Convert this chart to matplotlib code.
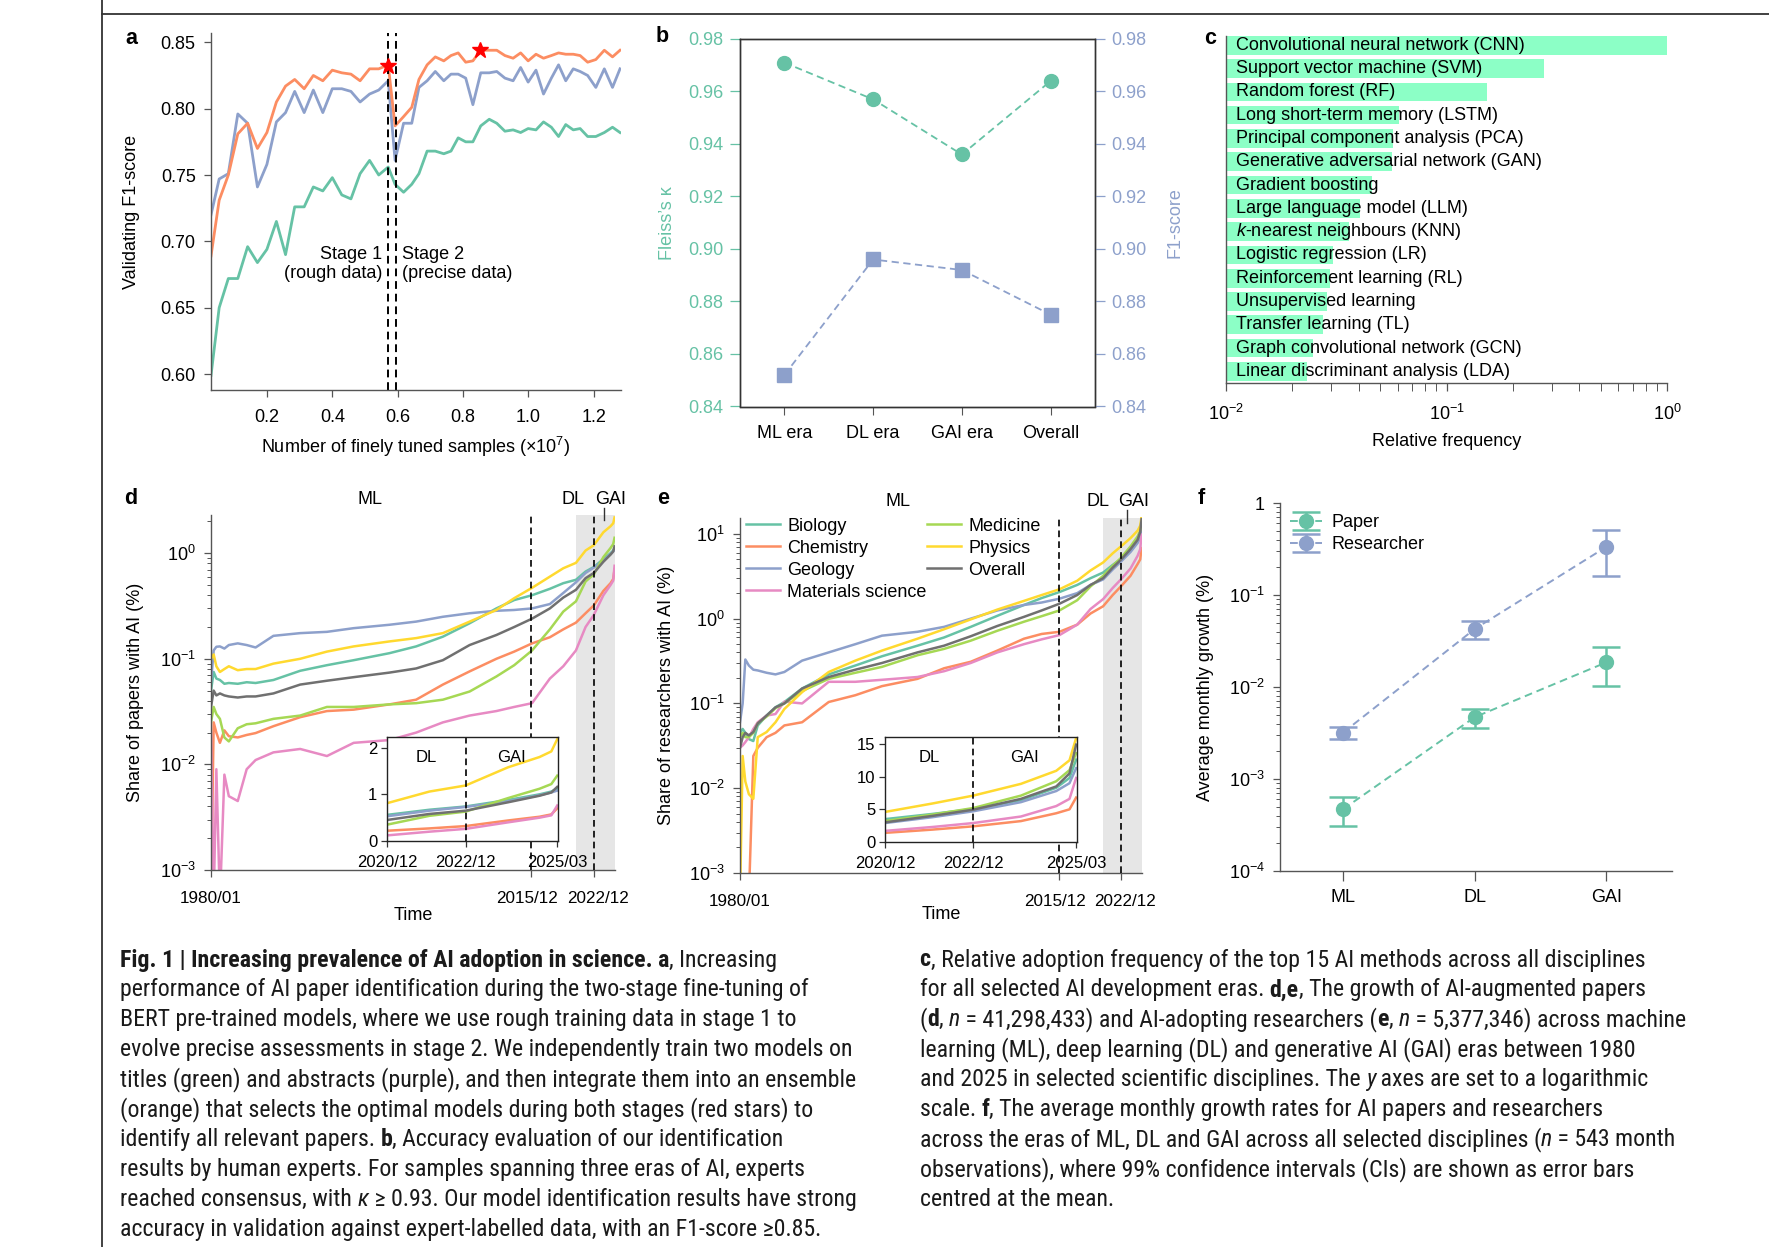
import matplotlib
matplotlib.use('Agg')
import numpy as np
import matplotlib.pyplot as plt
from matplotlib import font_manager as fm
from matplotlib.lines import Line2D
from matplotlib.transforms import ScaledTranslation
from matplotlib.ticker import LogLocator, NullFormatter, FixedLocator

plt.rcParams['font.family'] = ['Liberation Sans', 'DejaVu Sans']
plt.rcParams['mathtext.fontset'] = 'custom'
plt.rcParams['mathtext.rm'] = 'Liberation Sans'
plt.rcParams['mathtext.it'] = 'Liberation Sans:italic'
plt.rcParams['mathtext.bf'] = 'Liberation Sans:bold'

# ---------------- data ----------------
# panel a
a_x = [0.029, 0.054, 0.082, 0.111, 0.141, 0.171, 0.200, 0.229, 0.257, 0.285,
       0.314, 0.342, 0.371, 0.400, 0.429, 0.457, 0.485, 0.514, 0.542, 0.571,
       0.592, 0.618, 0.643, 0.665, 0.690, 0.715, 0.741, 0.763, 0.785, 0.808,
       0.830, 0.854, 0.880, 0.903, 0.928, 0.953, 0.976, 0.999, 1.023, 1.046,
       1.070, 1.092, 1.114, 1.137, 1.158, 1.181, 1.206, 1.232, 1.257, 1.280]
a_titles = [0.599, 0.650, 0.672, 0.672, 0.696, 0.684, 0.694, 0.715, 0.690, 0.726,
            0.726, 0.741, 0.738, 0.748, 0.735, 0.732, 0.751, 0.761, 0.750, 0.756,
            0.743, 0.737, 0.743, 0.751, 0.768, 0.768, 0.766, 0.768, 0.778, 0.775,
            0.775, 0.787, 0.792, 0.789, 0.783, 0.784, 0.782, 0.785, 0.784, 0.790,
            0.786, 0.779, 0.788, 0.784, 0.785, 0.779, 0.779, 0.782, 0.786, 0.782]
a_abstracts = [0.720, 0.747, 0.751, 0.796, 0.789, 0.741, 0.758, 0.790, 0.797, 0.813,
               0.797, 0.814, 0.797, 0.815, 0.815, 0.813, 0.805, 0.811, 0.814, 0.821,
               0.761, 0.789, 0.789, 0.816, 0.821, 0.828, 0.821, 0.826, 0.826, 0.823,
               0.803, 0.827, 0.827, 0.828, 0.823, 0.821, 0.831, 0.820, 0.829, 0.811,
               0.823, 0.833, 0.821, 0.830, 0.828, 0.825, 0.816, 0.830, 0.816, 0.830]
a_ensemble = [0.689, 0.731, 0.750, 0.781, 0.789, 0.770, 0.782, 0.805, 0.817, 0.822,
              0.815, 0.825, 0.821, 0.829, 0.827, 0.826, 0.821, 0.830, 0.830, 0.833,
              0.787, 0.794, 0.801, 0.822, 0.833, 0.839, 0.836, 0.840, 0.842, 0.835,
              0.836, 0.844, 0.844, 0.844, 0.840, 0.838, 0.842, 0.836, 0.841, 0.838,
              0.840, 0.842, 0.841, 0.841, 0.840, 0.835, 0.837, 0.844, 0.839, 0.844]
a_star_x = [0.571, 0.852]
a_star_y = [0.832, 0.844]
a_stage_x = [0.571, 0.595]

# panel b
b_eras = ['ML era', 'DL era', 'GAI era', 'Overall']
b_kappa = [0.971, 0.957, 0.936, 0.964]
b_f1 = [0.852, 0.896, 0.892, 0.875]

# panel c
c_methods = ['Convolutional neural network (CNN)', 'Support vector machine (SVM)',
             'Random forest (RF)', 'Long short-term memory (LSTM)',
             'Principal component analysis (PCA)', 'Generative adversarial network (GAN)',
             'Gradient boosting', 'Large language model (LLM)',
             r'$k$-nearest neighbours (KNN)', 'Logistic regression (LR)',
             'Reinforcement learning (RL)', 'Unsupervised learning',
             'Transfer learning (TL)', 'Graph convolutional network (GCN)',
             'Linear discriminant analysis (LDA)']
c_freq = [1.0, 0.277, 0.153, 0.0611, 0.0571, 0.0567, 0.0461, 0.0404, 0.0360,
          0.0306, 0.0296, 0.0288, 0.0274, 0.0248, 0.0232]

# panel d (share of papers, %)
d_years = [1980.0, 1980.3, 1980.6, 1981.0, 1981.5, 1982.0, 1983.0, 1984.0, 1985.0,
           1987.0, 1990.0, 1993.0, 1996.0, 2000.0, 2003.0, 2006.0, 2009.0, 2012.0,
           2014.0, 2016.0, 2018.0, 2019.5, 2020.92, 2022.0, 2022.92, 2024.0,
           2024.8, 2025.1, 2025.25]
d_biology = [0.050, 0.075, 0.065, 0.063, 0.058, 0.059, 0.058, 0.060, 0.059, 0.063,
             0.077, 0.087, 0.097, 0.113, 0.131, 0.162, 0.217, 0.300, 0.360, 0.400,
             0.460, 0.520, 0.56, 0.67, 0.74, 0.88, 1.00, 1.06, 1.12]
d_chemistry = [0.0005, 0.025, 0.020, 0.016, 0.021, 0.0185, 0.018, 0.019, 0.0198, 0.023,
               0.028, 0.032, 0.033, 0.037, 0.041, 0.057, 0.076, 0.100, 0.117, 0.140,
               0.160, 0.190, 0.22, 0.27, 0.32, 0.44, 0.52, 0.57, 0.70]
d_geology = [0.060, 0.120, 0.130, 0.131, 0.125, 0.135, 0.140, 0.135, 0.128, 0.165,
             0.175, 0.180, 0.195, 0.210, 0.225, 0.250, 0.270, 0.285, 0.290, 0.300,
             0.330, 0.420, 0.53, 0.65, 0.73, 0.85, 0.98, 1.04, 1.08]
d_materials = [0.020, 0.0005, 0.009, 0.0005, 0.008, 0.005, 0.0045, 0.009, 0.011, 0.013,
               0.014, 0.012, 0.016, 0.017, 0.020, 0.025, 0.029, 0.032, 0.035, 0.038,
               0.065, 0.085, 0.12, 0.20, 0.26, 0.40, 0.50, 0.55, 0.76]
d_medicine = [0.025, 0.035, 0.030, 0.027, 0.018, 0.0165, 0.022, 0.024, 0.0245, 0.027,
              0.029, 0.035, 0.035, 0.037, 0.038, 0.041, 0.049, 0.068, 0.087, 0.120,
              0.190, 0.280, 0.35, 0.54, 0.63, 0.92, 1.12, 1.22, 1.40]
d_physics = [0.100, 0.110, 0.085, 0.075, 0.080, 0.085, 0.078, 0.080, 0.080, 0.090,
             0.100, 0.117, 0.131, 0.146, 0.157, 0.175, 0.225, 0.290, 0.375, 0.470,
             0.600, 0.720, 0.81, 1.06, 1.19, 1.58, 1.80, 1.92, 2.18]
d_overall = [0.035, 0.050, 0.045, 0.047, 0.045, 0.044, 0.043, 0.044, 0.044, 0.047,
             0.057, 0.062, 0.067, 0.074, 0.081, 0.097, 0.135, 0.168, 0.200, 0.240,
             0.300, 0.380, 0.45, 0.58, 0.65, 0.83, 0.97, 1.04, 1.16]

# panel e (share of researchers, %)
e_years = list(d_years)
e_biology = [0.045, 0.050, 0.045, 0.038, 0.036, 0.055, 0.072, 0.090, 0.104, 0.150,
             0.220, 0.280, 0.360, 0.480, 0.600, 0.800, 1.08, 1.45, 1.75, 2.06,
             2.50, 3.00, 3.5, 4.3, 5.05, 6.4, 8.3, 9.8, 12.6]
e_chemistry = [0.0005, 0.0005, 0.0005, 0.0005, 0.024, 0.030, 0.040, 0.045, 0.055, 0.060,
               0.104, 0.125, 0.160, 0.195, 0.260, 0.310, 0.420, 0.580, 0.660, 0.700,
               0.850, 1.15, 1.4, 1.9, 2.4, 3.2, 4.4, 5.0, 6.8]
e_geology = [0.060, 0.100, 0.330, 0.280, 0.250, 0.245, 0.230, 0.220, 0.235, 0.320,
             0.400, 0.500, 0.630, 0.700, 0.800, 1.00, 1.25, 1.45, 1.55, 1.72,
             2.00, 2.50, 2.9, 3.8, 4.7, 6.1, 7.8, 9.0, 11.3]
e_materials = [0.030, 0.032, 0.035, 0.040, 0.050, 0.060, 0.072, 0.075, 0.105, 0.100,
               0.180, 0.180, 0.190, 0.205, 0.240, 0.300, 0.400, 0.500, 0.570, 0.640,
               0.850, 1.30, 1.7, 2.3, 2.9, 3.9, 5.5, 6.6, 9.8]
e_medicine = [0.040, 0.045, 0.040, 0.040, 0.045, 0.058, 0.070, 0.088, 0.100, 0.140,
              0.195, 0.230, 0.270, 0.370, 0.440, 0.550, 0.720, 0.920, 1.07, 1.25,
              1.65, 2.40, 3.2, 4.2, 5.2, 7.1, 9.3, 11.0, 13.6]
e_physics = [0.0005, 0.024, 0.012, 0.0085, 0.0075, 0.040, 0.046, 0.060, 0.086, 0.136,
             0.235, 0.320, 0.420, 0.580, 0.750, 0.980, 1.28, 1.62, 1.90, 2.22,
             2.80, 3.70, 4.6, 5.9, 7.1, 8.9, 10.9, 12.5, 15.9]
e_overall = [0.030, 0.040, 0.045, 0.042, 0.046, 0.058, 0.072, 0.090, 0.100, 0.150,
             0.205, 0.250, 0.300, 0.400, 0.480, 0.620, 0.820, 1.05, 1.25, 1.50,
             1.90, 2.50, 3.0, 4.0, 4.95, 6.6, 8.5, 10.5, 14.9]

# panel f
f_eras = ['ML', 'DL', 'GAI']
f_paper = [0.00047, 0.0047, 0.0185]
f_paper_lo = [0.00031, 0.0036, 0.0102]
f_paper_hi = [0.00063, 0.0058, 0.027]
f_res = [0.0032, 0.0427, 0.333]
f_res_lo = [0.00275, 0.0336, 0.160]
f_res_hi = [0.00366, 0.0516, 0.509]

era_ticks = [1980.0, 2015.92, 2022.92]
era_labels = ['1980/01', '2015/12', '2022/12']
inset_ticks = [2020.92, 2022.92, 2025.25]
inset_labels = ['2020/12', '2022/12', '2025/03']

GREEN = '#66c2a5'
ORANGE = '#fc8d62'
PURPLE = '#8da0cb'
PINK = '#e78ac3'
LIME = '#a6d854'
YELLOW = '#ffd92f'
GRAY = '#707070'
SPINE = '#555555'
FS = 13

W, H = 1769, 1247
fig = plt.figure(figsize=(W / 100, H / 100), dpi=100)


def box(x0, y0, x1, y1):
    return [x0 / W, 1 - y1 / H, (x1 - x0) / W, (y1 - y0) / H]


def style(ax, sides=('left', 'bottom')):
    for s in ['top', 'right', 'left', 'bottom']:
        ax.spines[s].set_visible(s in sides)
        ax.spines[s].set_color(SPINE)
        ax.spines[s].set_linewidth(1.0)
    ax.tick_params(direction='out', length=5, width=0.9, color=SPINE,
                   labelsize=FS, pad=6)
    ax.tick_params(which='minor', direction='out', length=3, width=0.7, color=SPINE)


# frame lines of the page
fig.add_artist(Line2D([101.5 / W, 101.5 / W], [0, 1], color='#333333', lw=1.3))
fig.add_artist(Line2D([101.5 / W, 1], [1 - 13.5 / H, 1 - 13.5 / H], color='#333333', lw=1.3))

for lab, x, y in [('a', 131, 38), ('b', 662, 37), ('c', 1210, 38),
                  ('d', 131, 498), ('e', 663, 499), ('f', 1201, 498)]:
    fig.text(x / W, 1 - y / H, lab, fontsize=15.5, fontweight='bold', ha='center', va='center')

# ---------------- a ----------------
axa = fig.add_axes(box(211, 33, 621, 390))
style(axa)
axa.plot(a_x, a_titles, color=GREEN, lw=2)
axa.plot(a_x, a_abstracts, color=PURPLE, lw=2)
axa.plot(a_x, a_ensemble, color=ORANGE, lw=2)
for xs in a_stage_x:
    axa.axvline(xs, color='k', lw=1.4, ls=(0, (4, 2.5)))
axa.plot(a_star_x, a_star_y, '*', color='red', ms=12, zorder=5)
axa.text(0.553, 0.683, 'Stage 1\n(rough data)', ha='right', va='center',
         multialignment='right', fontsize=FS, linespacing=1.15)
axa.text(0.613, 0.683, 'Stage 2\n(precise data)', ha='left', va='center',
         multialignment='left', fontsize=FS, linespacing=1.15)
axa.set_xlim(0.029, 1.283)
axa.set_ylim(0.588, 0.857)
axa.set_xticks([0.2, 0.4, 0.6, 0.8, 1.0, 1.2])
axa.set_xticklabels(['0.2', '0.4', '0.6', '0.8', '1.0', '1.2'])
axa.set_yticks([0.60, 0.65, 0.70, 0.75, 0.80, 0.85])
axa.set_yticklabels(['0.60', '0.65', '0.70', '0.75', '0.80', '0.85'])
axa.tick_params(axis='x', pad=9)
axa.set_ylabel('Validating F1-score', fontsize=FS)
axa.yaxis.set_label_coords(-0.173, 0.5)
axa.set_xlabel(r'Number of finely tuned samples (×10$^{7}$)', fontsize=FS)
axa.xaxis.set_label_coords(0.498, -0.125)

# ---------------- b ----------------
axb = fig.add_axes(box(740, 39, 1095, 406.5))
axb2 = axb.twinx()
for ax in (axb, axb2):
    for s in ax.spines.values():
        s.set_color('#333333')
        s.set_linewidth(1.0)
axb.plot(range(len(b_eras)), b_kappa, ls=(0, (4, 2.5)), marker='o', color=GREEN,
         ms=10, lw=1.3)
axb2.plot(range(len(b_eras)), b_f1, ls=(0, (4, 2.5)), marker='s', color=PURPLE,
          ms=10, lw=1.3)
bt = [0.84, 0.86, 0.88, 0.90, 0.92, 0.94, 0.96, 0.98]
for ax, col in ((axb, GREEN), (axb2, PURPLE)):
    ax.set_ylim(0.84, 0.98)
    ax.set_yticks(bt)
    ax.set_yticklabels(['%.2f' % v for v in bt])
    ax.tick_params(axis='y', colors=col, labelsize=FS, length=7, width=0.9,
                   direction='out', pad=5)
axb.set_xlim(-0.5, 3.5)
axb.set_xticks(range(len(b_eras)))
axb.set_xticklabels(b_eras)
axb.tick_params(axis='x', labelsize=FS, length=6, color=SPINE, pad=7)
axb.set_ylabel('Fleiss’s κ', color=GREEN, fontsize=FS)
axb.yaxis.set_label_coords(-0.18, 0.5)
axb2.set_ylabel('F1-score', color=PURPLE, fontsize=FS)
axb2.yaxis.set_label_coords(1.20, 0.5)

# ---------------- c ----------------
axc = fig.add_axes(box(1226, 36, 1667, 383))
style(axc)
axc.set_xscale('log')
ypos = np.arange(len(c_methods))[::-1]
axc.barh(ypos, c_freq, height=0.8, color='#8cffc6', lw=0)
for yy, name in zip(ypos, c_methods):
    axc.text(0.0111, yy, name, va='center', ha='left', fontsize=FS)
axc.set_xlim(0.01, 1.0)
axc.set_ylim(-0.5, 14.4)
axc.set_yticks([])
axc.tick_params(axis='x', which='both', length=6)
axc.tick_params(axis='x', pad=9)
axc.set_xlabel('Relative frequency', fontsize=FS)
axc.xaxis.set_label_coords(0.501, -0.145)


# ---------------- d / e ----------------
def time_panel(rect, years, series, ylim, ylabel, label_y, xlab_y, ticks_top_x, era_pos):
    ax = fig.add_axes(rect)
    style(ax)
    ax.set_yscale('log')
    ax.axvspan(2020.92, 2025.4, color='#e6e6e6', lw=0, zorder=0)
    lines = []
    for name, vals, col in series:
        ln, = ax.plot(years, vals, color=col, lw=1.8, label=name)
        lines.append(ln)
    for xv in era_ticks[1:]:
        ax.axvline(xv, color='k', lw=1.2, ls=(0, (4, 2.5)), zorder=3)
    ax.set_xlim(1980.0, 2025.3)
    ax.set_ylim(*ylim)
    ax.set_xticks(era_ticks)
    ax.set_xticklabels(era_labels)
    ax.tick_params(axis='x', pad=10, labelsize=12.3)
    # push the two close labels slightly apart, as in the original
    for lab, dx in zip(ax.get_xticklabels(), [0, -4, 4]):
        lab.set_transform(lab.get_transform() + ScaledTranslation(dx / 100, 0, fig.dpi_scale_trans))
    ax.yaxis.set_major_locator(LogLocator(base=10, numticks=10))
    ax.yaxis.set_minor_locator(LogLocator(base=10, subs=np.arange(2, 10), numticks=10))
    ax.yaxis.set_minor_formatter(NullFormatter())
    ax.set_ylabel(ylabel, fontsize=FS)
    ax.yaxis.set_label_coords(label_y, 0.5)
    ax.set_xlabel('Time', fontsize=FS)
    ax.xaxis.set_label_coords(0.5, xlab_y)
    tr = ax.get_xaxis_transform()
    for txt, xv in zip(['ML', 'DL', 'GAI'], era_pos):
        ax.text(xv, 1.045, txt, transform=tr, ha='center', va='center', fontsize=FS)
    ax.plot([ticks_top_x, ticks_top_x], [0.985, 1.02], transform=tr, color='#333333',
            lw=1, clip_on=False)
    return ax, lines


def inset(rect, years, series, ylim, yticks, txt_y):
    ax = fig.add_axes(rect, zorder=5)
    ax.set_facecolor('white')
    for s in ax.spines.values():
        s.set_color('#222222')
        s.set_linewidth(1.0)
    for name, vals, col in series:
        ax.plot(years, vals, color=col, lw=1.8)
    ax.axvline(2022.92, color='k', lw=1.2, ls=(0, (4, 2.5)))
    ax.set_xlim(2020.92, 2025.27)
    ax.set_ylim(*ylim)
    ax.set_yticks(yticks)
    ax.set_xticks(inset_ticks)
    ax.set_xticklabels(inset_labels)
    ax.tick_params(labelsize=12, length=4, width=0.9, color='#333333', pad=3)
    ax.tick_params(axis='x', pad=6)
    ax.text(2021.92, txt_y, 'DL', ha='center', va='center', fontsize=12)
    ax.text(2024.08, txt_y, 'GAI', ha='center', va='center', fontsize=12)
    return ax


d_series = [('Biology', d_biology, GREEN), ('Chemistry', d_chemistry, ORANGE),
            ('Geology', d_geology, PURPLE), ('Materials science', d_materials, PINK),
            ('Medicine', d_medicine, LIME), ('Physics', d_physics, YELLOW),
            ('Overall', d_overall, GRAY)]
e_series = [('Biology', e_biology, GREEN), ('Chemistry', e_chemistry, ORANGE),
            ('Geology', e_geology, PURPLE), ('Materials science', e_materials, PINK),
            ('Medicine', e_medicine, LIME), ('Physics', e_physics, YELLOW),
            ('Overall', e_overall, GRAY)]

axd, _ = time_panel(box(211, 515, 615, 870), d_years, d_series, (1e-3, 2.3),
                    'Share of papers with AI (%)', -0.166, -0.104, 2024.1,
                    [1997.8, 2020.6, 2024.8])
inset(box(387, 736.5, 558, 841), d_years, d_series, (0, 2.24), [0, 1, 2], 1.78)

axe, e_lines = time_panel(box(740, 517.5, 1142, 873), e_years, e_series, (1e-3, 15.6),
                          'Share of researchers with AI (%)', -0.162, -0.094, 2023.6,
                          [1997.8, 2020.3, 2024.3])
inset(box(885, 737, 1077, 842), e_years, e_series, (0, 16.07), [0, 5, 10, 15], 13.0)
axe.legend(handles=e_lines, ncol=2, loc='upper left', bbox_to_anchor=(0.01, 1.005),
           frameon=False, fontsize=FS, handlelength=1.9, handletextpad=0.4,
           labelspacing=0.28, columnspacing=0.0, borderpad=0.1, borderaxespad=0)

# ---------------- f ----------------
axf = fig.add_axes(box(1280, 503, 1672, 871))
style(axf)
axf.set_yscale('log')
xf = np.arange(len(f_eras))
for vals, lo, hi, col, name in ((f_paper, f_paper_lo, f_paper_hi, GREEN, 'Paper'),
                                (f_res, f_res_lo, f_res_hi, PURPLE, 'Researcher')):
    err = [np.array(vals) - np.array(lo), np.array(hi) - np.array(vals)]
    axf.errorbar(xf, vals, yerr=err, fmt='o', ls=(0, (4, 2.5)), color=col, ms=10,
                 lw=1.4, elinewidth=1.8, capsize=10, capthick=1.8, label=name)
axf.set_xlim(-0.48, 2.5)
axf.set_ylim(1e-4, 1)
axf.set_xticks(xf)
axf.set_xticklabels(f_eras)
axf.tick_params(axis='x', length=7, pad=6)
axf.yaxis.set_major_locator(FixedLocator([1e-4, 1e-3, 1e-2, 1e-1, 1]))
axf.set_yticklabels([r'$\mathdefault{10^{-4}}$', r'$\mathdefault{10^{-3}}$',
                     r'$\mathdefault{10^{-2}}$', r'$\mathdefault{10^{-1}}$', '1'])
axf.yaxis.set_minor_locator(LogLocator(base=10, subs=np.arange(2, 10), numticks=10))
axf.yaxis.set_minor_formatter(NullFormatter())
axf.set_ylabel('Average monthly growth (%)', fontsize=FS)
axf.yaxis.set_label_coords(-0.168, 0.5)
axf.legend(loc='upper left', bbox_to_anchor=(0.02, 0.975), frameon=False, fontsize=FS,
           handlelength=1.8, handletextpad=0.5, labelspacing=0.3, borderpad=0.1,
           borderaxespad=0)

# ---------------- caption ----------------
names = {f.name for f in fm.fontManager.ttflist}
cap_family = 'Liberation Sans'
cap_stretch = 'normal'
for cand in ['Liberation Sans Narrow', 'Roboto Condensed', 'Open Sans Condensed']:
    if cand in names:
        cap_family = cand
        break
else:
    if any(f.name == 'DejaVu Sans' and f.stretch == 'condensed' for f in fm.fontManager.ttflist):
        cap_family = 'DejaVu Sans'
        cap_stretch = 'condensed'

left_lines = [
    [('Fig. 1 | Increasing prevalence of AI adoption in science. a', 'b'), (', Increasing', 'n')],
    [('performance of AI paper identification during the two-stage fine-tuning of', 'n')],
    [('BERT pre-trained models, where we use rough training data in stage 1 to', 'n')],
    [('evolve precise assessments in stage 2. We independently train two models on', 'n')],
    [('titles (green) and abstracts (purple), and then integrate them into an ensemble', 'n')],
    [('(orange) that selects the optimal models during both stages (red stars) to', 'n')],
    [('identify all relevant papers. ', 'n'), ('b', 'b'), (', Accuracy evaluation of our identification', 'n')],
    [('results by human experts. For samples spanning three eras of AI, experts', 'n')],
    [('reached consensus, with ', 'n'), ('κ', 'i'), (' ≥ 0.93. Our model identification results have strong', 'n')],
    [('accuracy in validation against expert-labelled data, with an F1-score ≥0.85.', 'n')],
]
right_lines = [
    [('c', 'b'), (', Relative adoption frequency of the top 15 AI methods across all disciplines', 'n')],
    [('for all selected AI development eras. ', 'n'), ('d,e', 'b'), (', The growth of AI-augmented papers', 'n')],
    [('(', 'n'), ('d', 'b'), (', ', 'n'), ('n', 'i'), (' = 41,298,433) and AI-adopting researchers (', 'n'),
     ('e', 'b'), (', ', 'n'), ('n', 'i'), (' = 5,377,346) across machine', 'n')],
    [('learning (ML), deep learning (DL) and generative AI (GAI) eras between 1980', 'n')],
    [('and 2025 in selected scientific disciplines. The ', 'n'), ('y', 'i'), (' axes are set to a logarithmic', 'n')],
    [('scale. ', 'n'), ('f', 'b'), (', The average monthly growth rates for AI papers and researchers', 'n')],
    [('across the eras of ML, DL and GAI across all selected disciplines (', 'n'), ('n', 'i'), (' = 543 month', 'n')],
    [('observations), where 99% confidence intervals (CIs) are shown as error bars', 'n')],
    [('centred at the mean.', 'n')],
]

renderer = fig.canvas.get_renderer()


def seg_kw(kind, size):
    return dict(fontsize=size, family=[cap_family, 'DejaVu Sans'], fontstretch=cap_stretch,
                fontweight='bold' if kind == 'b' else 'normal',
                fontstyle='italic' if kind == 'i' else 'normal', color='#1a1a1a')


def seg_width(s, kind, size):
    kw = seg_kw(kind, size)
    t1 = fig.text(0, 0, '|' + s + '|', **kw)
    t0 = fig.text(0, 0, '||', **kw)
    w = t1.get_window_extent(renderer).width - t0.get_window_extent(renderer).width
    t1.remove()
    t0.remove()
    return w


def line_width(segs, size):
    return sum(seg_width(s, k, size) for s, k in segs)


cap_size = 10 * min(757.0 / line_width(left_lines[4], 10),
                    763.5 / line_width(right_lines[2], 10))


def draw_lines(lines, x0, y0):
    for i, segs in enumerate(lines):
        x = x0
        y = y0 + i * 29.95
        for s, k in segs:
            fig.text(x / W, 1 - y / H, s, va='center', ha='left', **seg_kw(k, cap_size))
            x += seg_width(s, k, cap_size)


draw_lines(left_lines, 120, 960)
draw_lines(right_lines, 919.5, 960)

fig.savefig('out.png', dpi=100)
